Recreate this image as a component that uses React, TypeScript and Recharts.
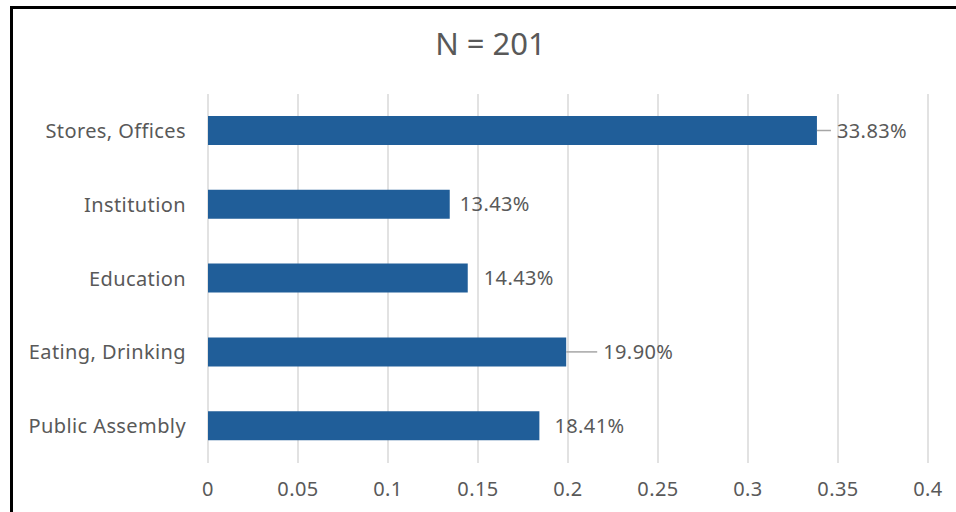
import { BarChart, Bar, XAxis, YAxis, CartesianGrid, LabelList } from "recharts";

const categories = [
  "Stores, Offices",
  "Institution",
  "Education",
  "Eating, Drinking",
  "Public Assembly",
];
const shares = [0.3383, 0.1343, 0.1443, 0.199, 0.1841];
const xTicks = [0, 0.05, 0.1, 0.15, 0.2, 0.25, 0.3, 0.35, 0.4];
const title = "N = 201";

// label placement (Excel moved some labels out with leader lines)
const labelGap = [20, 10, 16, 37, 15];
const leader = [true, false, false, true, false];

const data = categories.map((name, i) => ({ name, value: shares[i] }));

const FONT = "'Noto Sans', sans-serif";
const TEXT = "#595959";
const SIZE = 20;
const SPACING = 0.4;

const ValueLabel = (props: any) => {
  const { x, y, width, height, value, index } = props;
  const end = x + width;
  const cy = y + height / 2;
  const gap = labelGap[index];
  return (
    <g>
      {leader[index] && (
        <line
          x1={end}
          y1={cy}
          x2={end + gap - 6}
          y2={cy}
          stroke="#A6A6A6"
          strokeWidth={1.5}
        />
      )}
      <text
        x={end + gap}
        y={cy}
        dy="0.35em"
        fill={TEXT}
        fontSize={SIZE}
        fontFamily={FONT}
        letterSpacing={SPACING}
      >
        {`${(value * 100).toFixed(2)}%`}
      </text>
    </g>
  );
};

export default function App() {
  const tickStyle = {
    fill: TEXT,
    fontSize: SIZE,
    fontFamily: FONT,
    letterSpacing: SPACING,
  };
  return (
    <div
      style={{
        position: "absolute",
        left: 0,
        top: 0,
        width: 956,
        height: 512,
        overflow: "hidden",
        background: "#fff",
      }}
    >
      <div
        style={{
          position: "absolute",
          left: 10,
          top: 6,
          width: 1200,
          height: 800,
          border: "3px solid #000",
          boxSizing: "border-box",
        }}
      />
      <div
        style={{
          position: "absolute",
          left: 0,
          top: 22,
          width: 981,
          textAlign: "center",
          fontFamily: FONT,
          fontSize: 31,
          color: TEXT,
        }}
      >
        {title}
      </div>
      <div style={{ position: "absolute", left: 0, top: 0 }}>
        <BarChart
          width={956}
          height={512}
          data={data}
          layout="vertical"
          margin={{ top: 94, right: 28, bottom: 9, left: 0 }}
        >
          <CartesianGrid
            horizontal={false}
            stroke="#D9D9D9"
            strokeWidth={1.5}
          />
          <XAxis
            type="number"
            domain={[0, 0.4]}
            ticks={xTicks}
            axisLine={false}
            tickLine={false}
            tickSize={0}
            tickMargin={19}
            height={40}
            tick={tickStyle}
          />
          <YAxis
            type="category"
            dataKey="name"
            width={208}
            axisLine={false}
            tickLine={false}
            tickSize={0}
            tickMargin={22}
            tick={tickStyle}
          />
          <Bar
            dataKey="value"
            fill="#205E99"
            barSize={29}
            isAnimationActive={false}
          >
            <LabelList dataKey="value" content={<ValueLabel />} />
          </Bar>
        </BarChart>
      </div>
    </div>
  );
}
